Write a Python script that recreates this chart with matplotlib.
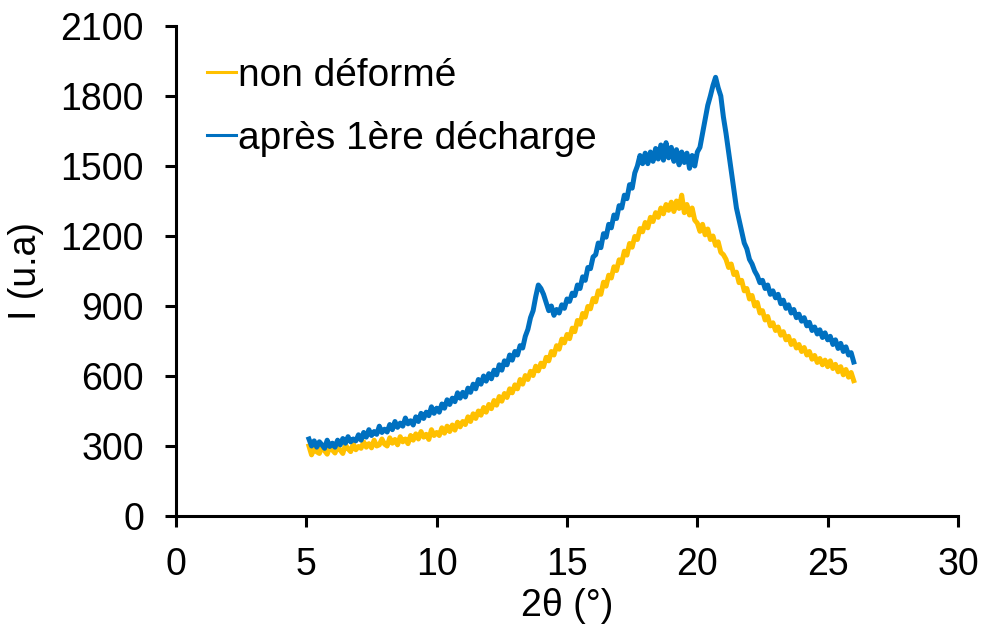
import numpy as np
import matplotlib.pyplot as plt

plt.rcParams['font.family'] = ['Liberation Sans', 'DejaVu Sans']

# 2theta grid: 5.1 .. 26.0 step 0.1 deg
two_theta = np.round(np.arange(5.1, 26.05, 0.1), 1)

# intensity, non deformed sample (one row = 1 degree)
i_non_deforme = [
    300, 262, 290, 275, 268, 298, 280, 265, 295, 283,
    270, 300, 282, 268, 305, 288, 276, 310, 284, 298,
    290, 318, 295, 310, 292, 325, 300, 305, 330, 308,
    300, 335, 312, 328, 305, 340, 318, 330, 310, 345,
    325, 352, 330, 362, 338, 350, 328, 370, 345, 358,
    345, 378, 355, 385, 362, 390, 368, 402, 382, 405,
    392, 425, 405, 438, 418, 450, 432, 465, 445, 478,
    460, 495, 475, 512, 492, 525, 508, 545, 528, 562,
    545, 585, 565, 602, 585, 620, 602, 642, 622, 655,
    640, 680, 665, 705, 690, 730, 715, 758, 742, 778,
    760, 805, 790, 838, 822, 868, 852, 898, 888, 932,
    918, 965, 950, 1002, 985, 1032, 1020, 1068, 1052, 1098,
    1085, 1135, 1118, 1168, 1152, 1198, 1185, 1232, 1218, 1258,
    1235, 1280, 1262, 1300, 1280, 1320, 1295, 1335, 1310, 1345,
    1305, 1350, 1318, 1375, 1300, 1335, 1290, 1320, 1268, 1255,
    1220, 1250, 1205, 1230, 1185, 1200, 1160, 1175, 1130, 1120,
    1100, 1065, 1080, 1035, 1045, 1000, 1010, 965, 975, 930,
    945, 900, 915, 870, 880, 840, 855, 815, 828, 795,
    810, 775, 790, 755, 770, 735, 752, 720, 735, 705,
    722, 690, 705, 672, 688, 658, 675, 648, 668, 640,
    665, 632, 650, 618, 640, 605, 628, 595, 615, 580,
]

# intensity after first discharge
i_apres_decharge = [
    330, 300, 322, 295, 318, 305, 290, 325, 298, 312,
    295, 325, 305, 332, 312, 340, 318, 330, 322, 348,
    325, 358, 338, 370, 345, 362, 350, 385, 358, 372,
    360, 392, 370, 405, 380, 398, 385, 420, 395, 408,
    390, 425, 405, 440, 418, 445, 430, 468, 440, 462,
    445, 480, 462, 498, 478, 505, 490, 528, 505, 530,
    510, 548, 530, 565, 545, 585, 565, 600, 578, 610,
    588, 625, 605, 648, 625, 665, 648, 690, 668, 705,
    690, 730, 720, 770, 800, 850, 880, 940, 990, 975,
    950, 915, 880, 900, 860, 885, 870, 905, 890, 930,
    920, 955, 945, 990, 975, 1025, 1010, 1065, 1060, 1110,
    1120, 1170, 1150, 1210, 1195, 1250, 1235, 1290, 1275, 1330,
    1320, 1375, 1360, 1420, 1405, 1470, 1500, 1545, 1510, 1555,
    1510, 1560, 1520, 1575, 1530, 1590, 1525, 1600, 1535, 1580,
    1520, 1570, 1505, 1560, 1515, 1555, 1490, 1545, 1500, 1560,
    1580, 1640, 1700, 1760, 1800, 1845, 1880, 1835, 1800, 1710,
    1640, 1560, 1480, 1400, 1320, 1270, 1220, 1170, 1145, 1100,
    1080, 1050, 1030, 1000, 1010, 975, 990, 950, 965, 935,
    950, 910, 925, 890, 905, 870, 885, 850, 865, 835,
    850, 815, 830, 795, 810, 780, 798, 765, 785, 755,
    770, 735, 755, 718, 740, 705, 725, 690, 700, 660,
]

x_ticks = [0, 5, 10, 15, 20, 25, 30]
y_ticks = [0, 300, 600, 900, 1200, 1500, 1800, 2100]

fig = plt.figure(figsize=(9.84, 6.31), dpi=100)
ax = fig.add_axes([176/984, 1 - 516/631, 782/984, 490/631])

ax.plot(two_theta, i_non_deforme, color='#FFC000', lw=3.6, label='non déformé')
ax.plot(two_theta, i_apres_decharge, color='#0070C0', lw=3.6, label='après 1ère décharge')

ax.set_xlim(0, 30)
ax.set_ylim(0, 2100)
ax.set_xticks(x_ticks)
ax.set_yticks(y_ticks)

for s in ['top', 'right']:
    ax.spines[s].set_visible(False)
for s in ['left', 'bottom']:
    ax.spines[s].set_linewidth(2.2)
ax.tick_params(direction='out', length=8, width=2.2, labelsize=27)
ax.tick_params(axis='y', pad=15)
ax.tick_params(axis='x', pad=14)

ax.set_xlabel('2θ (°)', fontsize=27, labelpad=4)
ax.set_ylabel('I (u.a)', fontsize=27, labelpad=12)

leg = ax.legend(loc='upper left', bbox_to_anchor=(31/782, 0.935), frameon=False,
                fontsize=28, handlelength=0.75, handletextpad=0.05,
                labelspacing=0.7, borderpad=0, borderaxespad=0)
for h in leg.get_lines():
    h.set_linewidth(2.2)

fig.savefig('out.png', dpi=100)
